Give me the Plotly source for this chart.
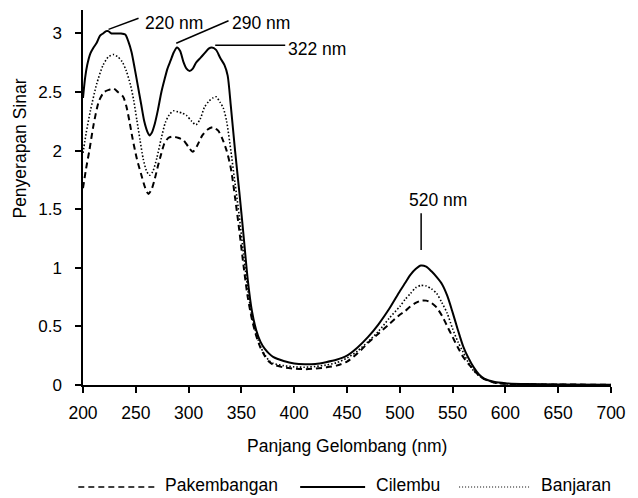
import plotly.graph_objects as go

# ---- data ----
wl_cilembu = [200, 202, 204, 207, 210, 213, 216, 219, 222, 224, 227, 232, 236, 240, 243, 246, 249, 252, 255, 258,
              261, 263, 265, 268, 271, 274, 277, 280, 283, 286, 289, 292, 295, 298, 301, 304, 307, 311, 315, 319,
              322, 326, 330, 334, 337, 340, 344, 348, 352, 356, 360, 364, 368, 372, 376, 380, 390, 400, 410, 420,
              430, 440, 450, 460, 470, 480, 490, 500, 505, 510, 515, 520, 525, 530, 535, 540, 545, 550, 555, 560,
              565, 570, 575, 580, 590, 600, 620, 650, 700]
cilembu = [2.45, 2.62, 2.73, 2.83, 2.88, 2.92, 2.98, 3.00, 3.02, 3.02, 3.00, 3.00, 3.00, 2.99, 2.93, 2.84, 2.70, 2.55, 2.40, 2.25,
           2.16, 2.13, 2.15, 2.23, 2.35, 2.49, 2.60, 2.70, 2.77, 2.84, 2.88, 2.85, 2.76, 2.70, 2.68, 2.70, 2.75, 2.79, 2.83, 2.87,
           2.88, 2.86, 2.79, 2.73, 2.64, 2.38, 2.00, 1.65, 1.28, 0.90, 0.63, 0.47, 0.37, 0.31, 0.27, 0.24, 0.205, 0.183, 0.177, 0.180,
           0.195, 0.215, 0.25, 0.32, 0.41, 0.52, 0.65, 0.80, 0.87, 0.94, 0.99, 1.02, 1.01, 0.97, 0.92, 0.86, 0.76, 0.62, 0.47, 0.33,
           0.23, 0.15, 0.09, 0.055, 0.025, 0.015, 0.008, 0.005, 0.003]

wl_banjaran = [200, 203, 207, 213, 219, 224, 229, 233, 237, 241, 245, 248, 251, 254, 257, 260, 263, 266, 270, 274,
               278, 282, 286, 290, 294, 298, 303, 307, 311, 315, 319, 323, 326, 330, 333, 336, 340, 344, 348, 352,
               356, 360, 364, 368, 372, 376, 380, 390, 400, 410, 420, 430, 440, 450, 460, 470, 480, 490, 500, 505,
               510, 515, 520, 525, 530, 535, 540, 545, 550, 555, 560, 565, 570, 575, 580, 590, 600, 620, 650, 700]
banjaran = [1.98, 2.15, 2.34, 2.57, 2.73, 2.80, 2.82, 2.80, 2.76, 2.68, 2.56, 2.43, 2.26, 2.09, 1.93, 1.83, 1.79, 1.82, 1.94, 2.10,
            2.24, 2.31, 2.34, 2.33, 2.32, 2.30, 2.25, 2.22, 2.27, 2.37, 2.42, 2.45, 2.46, 2.41, 2.36, 2.25, 2.00, 1.72, 1.44, 1.12,
            0.82, 0.58, 0.44, 0.33, 0.26, 0.21, 0.185, 0.165, 0.155, 0.152, 0.158, 0.17, 0.19, 0.23, 0.29, 0.37, 0.46, 0.57, 0.67, 0.73,
            0.78, 0.83, 0.85, 0.845, 0.82, 0.78, 0.70, 0.61, 0.48, 0.37, 0.28, 0.19, 0.12, 0.08, 0.05, 0.02, 0.01, 0.005, 0.003, 0.002]

wl_pakembangan = [200, 203, 206, 210, 215, 220, 225, 229, 233, 238, 241, 244, 247, 251, 255, 259, 262, 265, 268, 271,
                  274, 277, 281, 285, 290, 295, 300, 304, 308, 313, 318, 323, 328, 332, 336, 340, 344, 348, 352, 356,
                  360, 364, 368, 372, 376, 380, 390, 400, 410, 420, 430, 440, 450, 460, 470, 480, 490, 500, 505, 510,
                  515, 520, 525, 530, 535, 540, 545, 550, 555, 560, 565, 570, 575, 580, 590, 600, 650, 700]
pakembangan = [1.68, 1.85, 2.00, 2.22, 2.42, 2.50, 2.52, 2.53, 2.50, 2.46, 2.38, 2.25, 2.10, 1.93, 1.80, 1.68, 1.63, 1.67, 1.76, 1.87,
               1.97, 2.06, 2.11, 2.12, 2.11, 2.09, 2.03, 1.99, 2.04, 2.13, 2.18, 2.20, 2.17, 2.10, 2.00, 1.85, 1.60, 1.32, 1.02, 0.75,
               0.56, 0.42, 0.32, 0.25, 0.20, 0.175, 0.15, 0.14, 0.135, 0.14, 0.15, 0.165, 0.20, 0.27, 0.36, 0.44, 0.52, 0.60, 0.63, 0.67,
               0.70, 0.72, 0.72, 0.70, 0.66, 0.59, 0.50, 0.41, 0.32, 0.24, 0.18, 0.13, 0.08, 0.05, 0.02, 0.01, 0.004, 0.003]

x_ticks = [200, 250, 300, 350, 400, 450, 500, 550, 600, 650, 700]
y_ticks = [0, 0.5, 1, 1.5, 2, 2.5, 3]
y_tick_text = ["0", "0.5", "1", "1.5", "2", "2.5", "3"]

# peak labels: text, text position (x, y), leader line (x0, y0, x1, y1)
peak_text = ["220 nm", "290 nm", "322 nm", "520 nm"]
peak_text_pos = [(286.4, 3.093), (368.3, 3.089), (421.7, 2.869), (536.5, 1.581)]
peak_lines = [(224.2, 3.035, 252.6, 3.129), (288.3, 2.916, 337.8, 3.108),
              (325.2, 2.90, 391.5, 2.90), (520.2, 1.465, 520.2, 1.152)]

series_names = ["Pakembangan", "Cilembu", "Banjaran"]

FONT = "Liberation Sans, Arial, sans-serif"

fig = go.Figure()
fig.add_trace(go.Scatter(x=wl_pakembangan, y=pakembangan, mode="lines", name=series_names[0],
                         line=dict(color="black", width=2, dash="6px,4px", shape="spline", smoothing=0.7)))
fig.add_trace(go.Scatter(x=wl_cilembu, y=cilembu, mode="lines", name=series_names[1],
                         line=dict(color="black", width=2, shape="spline", smoothing=0.7)))
fig.add_trace(go.Scatter(x=wl_banjaran, y=banjaran, mode="lines", name=series_names[2],
                         line=dict(color="black", width=1.6, dash="1.5px,2px", shape="spline", smoothing=0.7)))

shapes = []
annotations = []
for (t, (tx, ty), (x0, y0, x1, y1)) in zip(peak_text, peak_text_pos, peak_lines):
    shapes.append(dict(type="line", xref="x", yref="y", x0=x0, y0=y0, x1=x1, y1=y1,
                       line=dict(color="black", width=1.5)))
    annotations.append(dict(text=t, x=tx, y=ty, xref="x", yref="y", showarrow=False,
                            xanchor="center", yanchor="middle", font=dict(family=FONT, size=17.5, color="black")))

# axis titles
annotations.append(dict(text="Panjang Gelombang (nm)", x=0.4995, y=-0.163, xref="paper", yref="paper",
                        showarrow=False, xanchor="center", yanchor="middle",
                        font=dict(family=FONT, size=17.5, color="black")))
annotations.append(dict(text="Penyerapan Sinar", x=-0.119, y=0.631, xref="paper", yref="paper",
                        showarrow=False, textangle=-90, xanchor="center", yanchor="middle",
                        font=dict(family=FONT, size=17.5, color="black")))

# manual legend
legend_line_x = [(-0.0089, 0.1406), (0.4113, 0.5343), (0.7123, 0.8448)]
legend_text_x = [0.152, 0.5504, 0.8637]
legend_dash = ["6px,4px", "solid", "1px,2px"]
legend_width = [1.5, 2, 1.2]
for (x0, x1), tx, d, w, n in zip(legend_line_x, legend_text_x, legend_dash, legend_width, series_names):
    shapes.append(dict(type="line", xref="paper", yref="paper", x0=x0, x1=x1, y0=-0.272, y1=-0.272,
                       line=dict(color="black", width=w, dash=d)))
    annotations.append(dict(text=n, x=tx, y=-0.267, xref="paper", yref="paper", showarrow=False,
                            xanchor="left", yanchor="middle", font=dict(family=FONT, size=17.5, color="black")))

fig.update_layout(
    width=638, height=498,
    margin=dict(l=83, r=27, t=10, b=113),
    paper_bgcolor="white", plot_bgcolor="white",
    showlegend=False,
    font=dict(family=FONT, size=17, color="black"),
    shapes=shapes, annotations=annotations,
    xaxis=dict(range=[200, 700], tickvals=x_ticks, ticks="outside", ticklen=6, tickwidth=1.5, tickcolor="black",
               showline=True, linecolor="black", linewidth=1.5, showgrid=False, zeroline=False,
               ticklabelstandoff=5, tickfont=dict(family=FONT, size=17.5, color="black")),
    yaxis=dict(range=[0, 3.2], tickvals=y_ticks, ticktext=y_tick_text, ticks="outside", ticklen=6, tickwidth=1.5,
               tickcolor="black", showline=True, linecolor="black", linewidth=1.5, showgrid=False, zeroline=False,
               ticklabelstandoff=10, tickfont=dict(family=FONT, size=17, color="black")),
)

fig.write_html("out.html", config={"displayModeBar": False},
               post_script="document.body.style.margin='0';document.body.style.overflow='hidden';")
